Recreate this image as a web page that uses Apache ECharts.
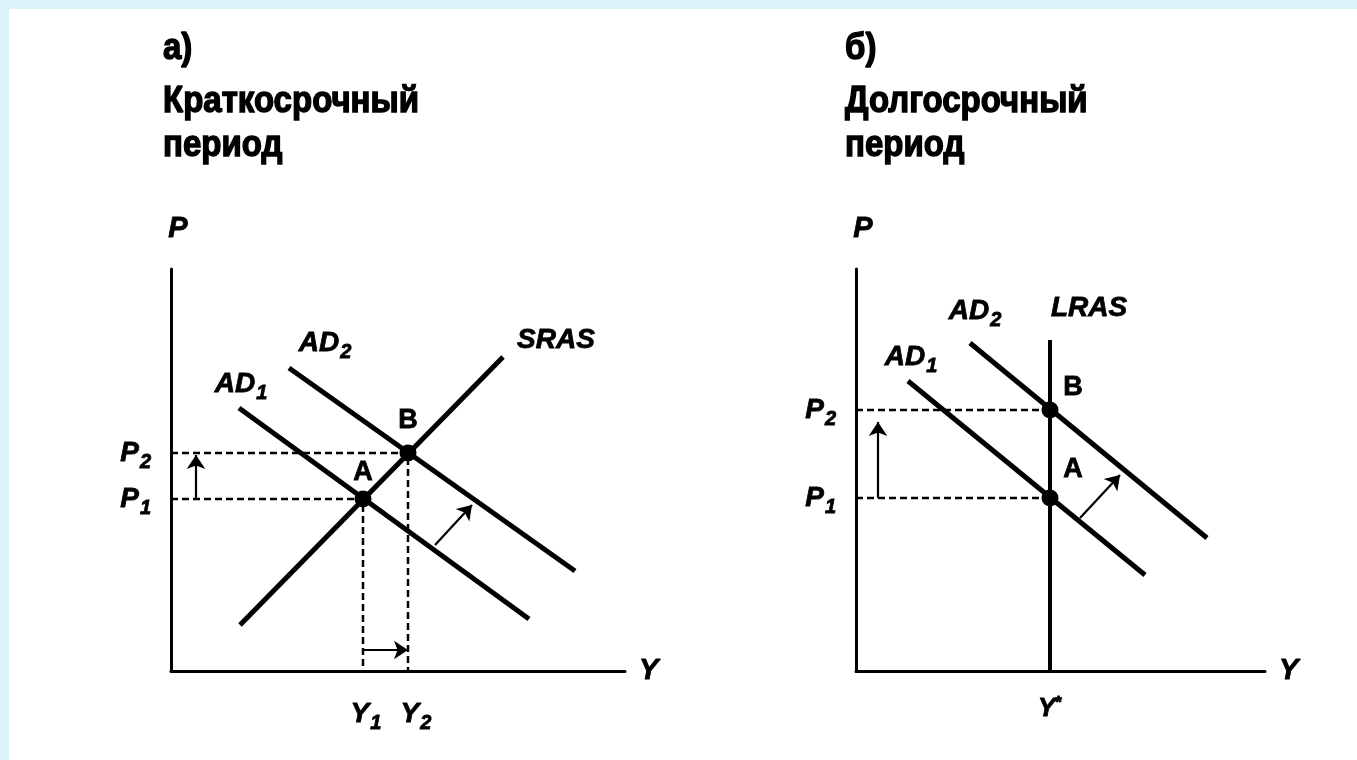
<!DOCTYPE html>
<html>
<head>
<meta charset="utf-8">
<script src="https://cdn.jsdelivr.net/npm/echarts@6/dist/echarts.min.js"></script>
<style>
html,body{margin:0;padding:0;background:#fff;}
#c{width:1357px;height:760px;}
</style>
</head>
<body>
<div id="c"></div>
<script>
// ---------- DATA (chart units) ----------
// Panel а) — short run
const aSRAS = [[69, 46], [332, 314]];
const aAD1 = [[68, 263], [358, 52]];
const aAD2 = [[118, 303], [404, 100]];
const aPointA = [192, 172];
const aPointB = [237, 218];
const aPriceShift = [[25, 172], [25, 216]];
const aOutputShift = [[192, 21], [237, 21]];
const aDemandShift = [[264, 126], [301, 166]];
const aXMax = 454;
const aYMax = 402;

// Panel б) — long run
const bLRAS = [[194, 0], [194, 331]];
const bAD1 = [[52, 290], [289, 96]];
const bAD2 = [[114, 328], [351, 133]];
const bPointA = [194, 173];
const bPointB = [194, 261];
const bPriceShift = [[22, 173], [22, 249]];
const bDemandShift = [[224, 153], [264, 196]];
const bXMax = 409;
const bYMax = 402;

// Text
const titlesA = ['а)', 'Краткосрочный', 'период'];
const titlesB = ['б)', 'Долгосрочный', 'период'];
const curveNamesA = ['AD', '1', 'AD', '2', 'SRAS'];
const curveNamesB = ['AD', '1', 'AD', '2', 'LRAS'];
const pointNames = ['A', 'B'];
const axisNames = ['P', 'Y'];

// ---------- STYLE ----------
const FONT = "'Liberation Sans', Arial, Helvetica, sans-serif";
const CYAN = '#d9f3f9';
const BLACK = '#000';
const HEAVY = { textBorderColor: BLACK, textBorderWidth: 0.8 };

const rich = {
  m: Object.assign({ fontFamily: FONT, fontSize: 28, fontWeight: 'bold', fontStyle: 'italic', color: BLACK }, HEAVY),
  s: Object.assign({ fontFamily: FONT, fontSize: 20, fontWeight: 'bold', fontStyle: 'italic', color: BLACK, padding: [18, 0, 0, 1] }, HEAVY),
  ya: Object.assign({ fontFamily: FONT, fontSize: 28, fontWeight: 'bold', fontStyle: 'italic', color: BLACK, padding: [0, 0, 0, 6] }, HEAVY),
  yb: Object.assign({ fontFamily: FONT, fontSize: 28, fontWeight: 'bold', fontStyle: 'italic', color: BLACK, padding: [0, 0, 0, 16] }, HEAVY),
  pt: Object.assign({ fontFamily: FONT, fontSize: 27, fontWeight: 'bold', color: BLACK }, HEAVY),
  ys: Object.assign({ fontFamily: FONT, fontSize: 26, fontWeight: 'bold', fontStyle: 'italic', color: BLACK }, HEAVY),
  star: Object.assign({ fontFamily: FONT, fontSize: 17, fontWeight: 'bold', color: BLACK, padding: [0, 0, 10, 0] }, HEAVY)
};

function sub(main, s) { return '{m|' + main + '}{s|' + s + '}'; }

function solidLine(gi, data, width) {
  return {
    type: 'line', xAxisIndex: gi, yAxisIndex: gi, data: data,
    showSymbol: false, symbol: 'none', clip: false, silent: true,
    lineStyle: { color: BLACK, width: width, cap: 'butt' }, z: 3
  };
}
function dashedLine(gi, data) {
  return {
    type: 'line', xAxisIndex: gi, yAxisIndex: gi, data: data,
    showSymbol: false, symbol: 'none', clip: false, silent: true,
    lineStyle: { color: BLACK, width: 2.5, type: [7, 4] }, z: 2
  };
}
function arrows(gi, list) {
  return {
    type: 'lines', coordinateSystem: 'cartesian2d', xAxisIndex: gi, yAxisIndex: gi,
    symbol: ['none', 'arrow'], symbolSize: [0, 14], silent: true,
    lineStyle: { color: BLACK, width: 2.2, opacity: 1 },
    data: list.map(c => ({ coords: c })), z: 4
  };
}
function points(gi, pts) {
  return {
    type: 'scatter', xAxisIndex: gi, yAxisIndex: gi, data: pts,
    symbol: 'circle', symbolSize: 17, itemStyle: { color: BLACK, opacity: 1 }, silent: true, z: 5
  };
}
function label(gi, anchor, text, offset) {
  return {
    type: 'scatter', xAxisIndex: gi, yAxisIndex: gi, data: [anchor],
    symbolSize: 0, itemStyle: { color: BLACK, opacity: 0 }, silent: true, z: 6,
    label: { show: true, position: 'inside', offset: offset, formatter: text, rich: rich,
      color: BLACK, opacity: 1, textBorderWidth: 0,
      align: 'center', verticalAlign: 'middle' }
  };
}

function xAxisCfg(gi, max, values, fmt) {
  return {
    type: 'value', gridIndex: gi, min: 0, max: max,
    name: axisNames[1], nameLocation: 'end', nameGap: 14,
    nameTextStyle: Object.assign({ fontFamily: FONT, fontSize: 29, fontWeight: 'bold', fontStyle: 'italic', color: BLACK, padding: [0, 0, 22, 0] }, HEAVY),
    axisLine: { show: true, lineStyle: { color: BLACK, width: 3 } },
    axisTick: { show: false }, splitLine: { show: false },
    axisLabel: { show: true, customValues: values, formatter: fmt, rich: rich, margin: 24, color: BLACK }
  };
}
function yAxisCfg(gi, max, values, fmt) {
  return {
    type: 'value', gridIndex: gi, min: 0, max: max,
    name: axisNames[0], nameLocation: 'end', nameGap: 26,
    nameTextStyle: Object.assign({ fontFamily: FONT, fontSize: 29, fontWeight: 'bold', fontStyle: 'italic', color: BLACK, padding: [0, 0, 0, 14] }, HEAVY),
    axisLine: { show: true, lineStyle: { color: BLACK, width: 3 } },
    axisTick: { show: false }, splitLine: { show: false },
    axisLabel: { show: true, customValues: values, formatter: fmt, rich: rich, margin: 20, color: BLACK }
  };
}

function titleText(x, y, t) {
  return {
    type: 'text', x: x, y: y, scaleY: 1.12, silent: true,
    style: { text: t, font: 'bold 33px ' + FONT, fill: BLACK, stroke: BLACK, lineWidth: 1.3,
      align: 'left', verticalAlign: 'middle', textAlign: 'left', textVerticalAlign: 'middle' }
  };
}

const chart = echarts.init(document.getElementById('c'), null, { renderer: 'canvas' });

const option = {
  animation: false,
  backgroundColor: '#fff',
  grid: [
    { left: 171, top: 269, width: aXMax, height: aYMax, containLabel: false, outerBoundsMode: 'none' },
    { left: 856, top: 269, width: bXMax, height: bYMax, containLabel: false, outerBoundsMode: 'none' }
  ],
  xAxis: [
    xAxisCfg(0, aXMax, [aPointA[0], aPointB[0]],
      v => v === aPointA[0] ? '{ya|Y}{s|1}' : '{yb|Y}{s|2}'),
    xAxisCfg(1, bXMax, [bPointA[0]], () => '{ys|Y}{star|*}')
  ],
  yAxis: [
    yAxisCfg(0, aYMax, [aPointA[1], aPointB[1]],
      v => v === aPointA[1] ? sub('P', '1') : sub('P', '2')),
    yAxisCfg(1, bYMax, [bPointA[1], bPointB[1]],
      v => v === bPointA[1] ? sub('P', '1') : sub('P', '2'))
  ],
  graphic: [
    { type: 'rect', shape: { x: 0, y: 0, width: 1357, height: 9 }, style: { fill: CYAN }, silent: true, z: -10 },
    { type: 'rect', shape: { x: 0, y: 0, width: 9, height: 760 }, style: { fill: CYAN }, silent: true, z: -10 },
    titleText(163, 49, titlesA[0]),
    titleText(163, 102, titlesA[1]),
    titleText(163, 146, titlesA[2]),
    titleText(845, 49, titlesB[0]),
    titleText(845, 102, titlesB[1]),
    titleText(845, 146, titlesB[2])
  ],
  series: [
    // panel а)
    dashedLine(0, [[0, aPointA[1]], aPointA, [aPointA[0], 0]]),
    dashedLine(0, [[0, aPointB[1]], aPointB, [aPointB[0], 0]]),
    solidLine(0, aSRAS, 5),
    solidLine(0, aAD1, 5),
    solidLine(0, aAD2, 5),
    arrows(0, [aPriceShift, aOutputShift, aDemandShift]),
    points(0, [aPointA, aPointB]),
    label(0, aAD1[0], sub(curveNamesA[0], curveNamesA[1]), [2, -24]),
    label(0, aAD2[0], sub(curveNamesA[2], curveNamesA[3]), [36, -25]),
    label(0, aSRAS[1], '{m|' + curveNamesA[4] + '}', [53, -17]),
    label(0, aPointA, '{pt|' + pointNames[0] + '}', [0, -26]),
    label(0, aPointB, '{pt|' + pointNames[1] + '}', [0, -32]),
    // panel б)
    dashedLine(1, [[0, bPointA[1]], bPointA]),
    dashedLine(1, [[0, bPointB[1]], bPointB]),
    solidLine(1, bLRAS, 4),
    solidLine(1, bAD1, 5),
    solidLine(1, bAD2, 5),
    arrows(1, [bPriceShift, bDemandShift]),
    points(1, [bPointA, bPointB]),
    label(1, bAD1[0], sub(curveNamesB[0], curveNamesB[1]), [3, -24]),
    label(1, bAD2[0], sub(curveNamesB[2], curveNamesB[3]), [5, -32]),
    label(1, bLRAS[1], '{m|' + curveNamesB[4] + '}', [39, -32]),
    label(1, bPointB, '{pt|' + pointNames[1] + '}', [23, -22]),
    label(1, bPointA, '{pt|' + pointNames[0] + '}', [23, -28])
  ]
};
chart.setOption(option);
</script>
</body>
</html>
